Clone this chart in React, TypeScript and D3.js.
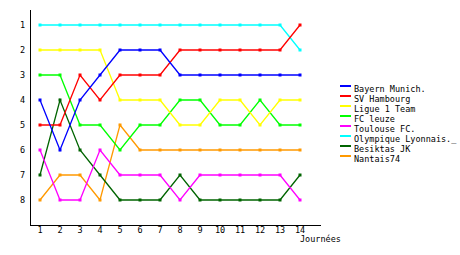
import React from "react";
import * as d3 from "d3";

const journees = [1, 2, 3, 4, 5, 6, 7, 8, 9, 10, 11, 12, 13, 14];
const rankTicks = [1, 2, 3, 4, 5, 6, 7, 8];
const teams = [
  "Bayern Munich.",
  "SV Hambourg",
  "Ligue 1 Team",
  "FC leuze",
  "Toulouse FC.",
  "Olympique Lyonnais._",
  "Besiktas JK",
  "Nantais74",
];
const colors = ["#0000ff", "#ff0000", "#ffff00", "#00ff00", "#ff00ff", "#00ffff", "#006400", "#ff9900"];
const bayern = [4, 6, 4, 3, 2, 2, 2, 3, 3, 3, 3, 3, 3, 3];
const hambourg = [5, 5, 3, 4, 3, 3, 3, 2, 2, 2, 2, 2, 2, 1];
const ligue1 = [2, 2, 2, 2, 4, 4, 4, 5, 5, 4, 4, 5, 4, 4];
const leuze = [3, 3, 5, 5, 6, 5, 5, 4, 4, 5, 5, 4, 5, 5];
const toulouse = [6, 8, 8, 6, 7, 7, 7, 8, 7, 7, 7, 7, 7, 8];
const lyon = [1, 1, 1, 1, 1, 1, 1, 1, 1, 1, 1, 1, 1, 2];
const besiktas = [7, 4, 6, 7, 8, 8, 8, 7, 8, 8, 8, 8, 8, 7];
const nantes = [8, 7, 7, 8, 5, 6, 6, 6, 6, 6, 6, 6, 6, 6];
const seriesValues = [bayern, hambourg, ligue1, leuze, toulouse, lyon, besiktas, nantes];
// draw order: later on top
const drawOrder = [5, 7, 6, 4, 3, 2, 1, 0];

const FONT = "'DejaVu Sans Mono', monospace";

export default function App() {
  const x = d3.scaleLinear().domain([1, 14]).range([40, 300]);
  const y = d3.scaleLinear().domain([0, 9]).range([0, 225]);
  const line = d3
    .line<number>()
    .x((_, i) => x(journees[i]))
    .y((d) => y(d));

  return (
    <svg
      width={460}
      height={255}
      style={{ position: "absolute", left: 0, top: 0, background: "#fff" }}
    >
      <rect x={0} y={0} width={460} height={255} fill="#fff" />
      {/* axes */}
      <line x1={30.5} y1={10} x2={30.5} y2={225.5} stroke="#000" strokeWidth={1} />
      <line x1={30} y1={225.5} x2={321} y2={225.5} stroke="#000" strokeWidth={1} />
      {rankTicks.map((r) => (
        <text
          key={"y" + r}
          x={25}
          y={y(r) + 3}
          textAnchor="end"
          fontFamily={FONT}
          fontSize={8.5}
          fill="#000"
        >
          {r}
        </text>
      ))}
      {journees.map((j) => (
        <text
          key={"x" + j}
          x={x(j)}
          y={233}
          textAnchor="middle"
          fontFamily={FONT}
          fontSize={8.5}
          fill="#000"
        >
          {j}
        </text>
      ))}
      <text x={300} y={242} fontFamily={FONT} fontSize={8.5} fill="#000">
        Journées
      </text>
      {/* lines */}
      {drawOrder.map((k) => (
        <g key={"s" + k}>
          <path d={line(seriesValues[k]) || ""} fill="none" stroke={colors[k]} strokeWidth={1.3} />
          {seriesValues[k].map((v, i) => (
            <rect
              key={i}
              x={x(journees[i]) - 1.5}
              y={y(v) - 1.5}
              width={3}
              height={3}
              fill={colors[k]}
            />
          ))}
        </g>
      ))}
      {/* legend */}
      {teams.map((t, i) => (
        <g key={"l" + i} transform={`translate(340, ${85 + i * 10})`}>
          <rect x={0} y={0} width={11} height={2} fill={colors[i]} />
          <text x={14} y={7} fontFamily={FONT} fontSize={8.5} fill="#000">
            {t}
          </text>
        </g>
      ))}
    </svg>
  );
}
